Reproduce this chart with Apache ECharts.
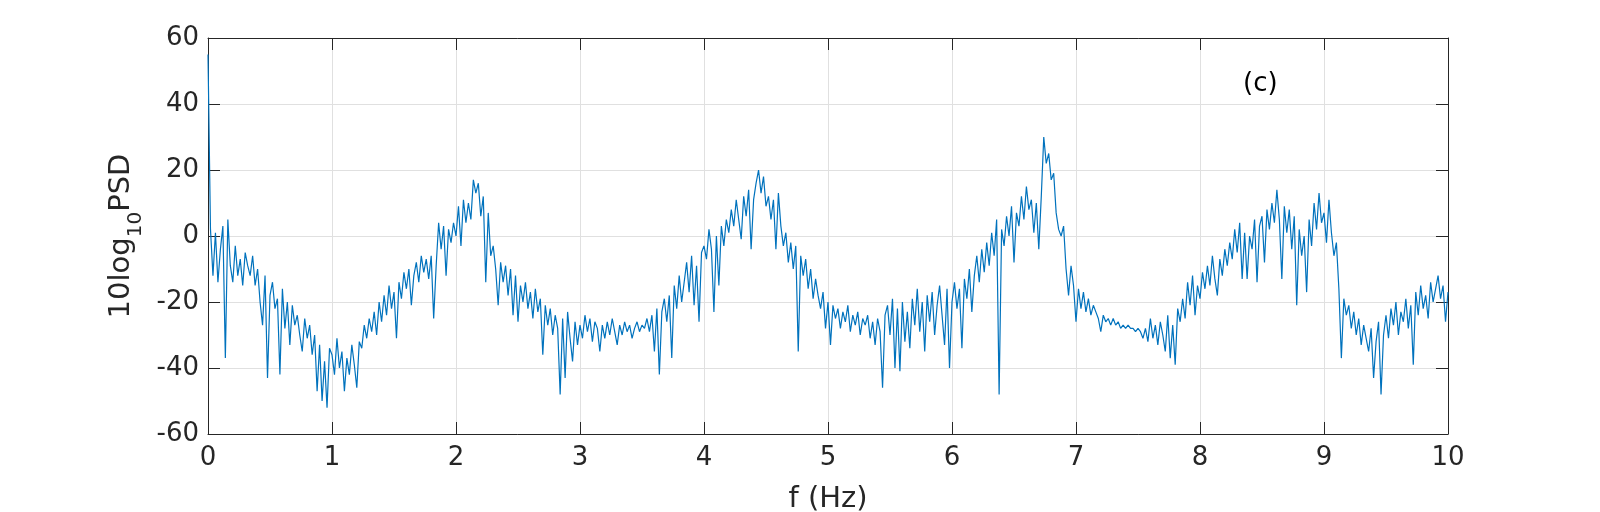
<!DOCTYPE html>
<html>
<head>
<meta charset="utf-8">
<script src="https://cdn.jsdelivr.net/npm/echarts@6/dist/echarts.min.js"></script>
<style>
  html, body { margin: 0; padding: 0; background: #fff; }
  #chart { width: 1600px; height: 512px; }
</style>
</head>
<body>
<div id="chart"></div>
<script>
// frequency resolution of the PSD estimate (Hz)
const freqStep = 0.02

// 10log10 PSD values, one array per 1 Hz band
const psd0to1 = [55, 2, -12, 1, -14, -4, 3, -37, 5, -9,
  -14, -3, -12, -7, -15, -5, -9, -12, -6, -15,
  -10, -20, -27, -12, -43, -18, -14, -22, -19, -42,
  -16, -28, -20, -33, -21, -27, -24, -30, -35, -25,
  -31, -27, -36, -30, -47, -33, -50, -38, -52, -34]
const psd1to2 = [-36, -42, -31, -40, -35, -47, -37, -42, -33, -39,
  -46, -32, -34, -27, -31, -25, -29, -23, -30, -20,
  -26, -18, -24, -15, -22, -17, -31, -14, -19, -11,
  -16, -10, -21, -12, -8, -14, -6, -11, -7, -13,
  -6, -25, -9, 4, -4, 3, -12, 2, -2, 4]
const psd2to3 = [0, 9, -3, 11, 4, 10, 5, 17, 13, 16,
  6, 12, -14, 7, -6, -3, -10, -21, -8, -14,
  -9, -18, -10, -24, -12, -26, -15, -20, -14, -22,
  -17, -25, -16, -23, -19, -36, -21, -27, -22, -30,
  -24, -28, -48, -25, -43, -23, -31, -38, -26, -33]
const psd3to4 = [-27, -31, -24, -29, -25, -32, -26, -28, -35, -27,
  -31, -26, -30, -25, -29, -33, -27, -30, -26, -29,
  -27, -31, -28, -26, -29, -27, -28, -25, -29, -24,
  -35, -22, -42, -23, -19, -26, -18, -37, -15, -22,
  -12, -20, -14, -8, -17, -6, -21, -9, -26, -5]
const psd4to5 = [-3, -7, 2, -4, -23, 0, -15, 3, -3, 5,
  1, 8, 3, 11, 5, -1, 12, 6, 14, -4,
  11, 16, 20, 13, 18, 9, 12, 5, 11, -4,
  13, 3, -3, 1, -8, -2, -10, -3, -35, -6,
  -12, -7, -16, -10, -19, -13, -18, -22, -17, -28]
const psd5to6 = [-20, -33, -21, -25, -22, -28, -23, -26, -21, -29,
  -24, -27, -23, -30, -25, -27, -24, -31, -26, -33,
  -25, -29, -46, -24, -21, -30, -19, -40, -22, -41,
  -20, -32, -23, -34, -19, -27, -16, -29, -20, -35,
  -18, -26, -17, -30, -21, -15, -24, -33, -16, -40]
const psd6to7 = [-20, -14, -22, -16, -34, -13, -19, -10, -23, -12,
  -6, -14, -4, -11, -2, -9, 1, -6, 5, -48,
  2, -3, 6, 0, 9, -8, 7, 3, 12, 5,
  15, 8, 11, 1, 10, -4, 12, 30, 22, 25,
  17, 19, 7, 2, 0, 3, -10, -18, -9, -15]
const psd7to8 = [-26, -16, -22, -17, -23, -19, -24, -21, -23, -25,
  -29, -24, -26, -25, -27, -25, -27, -26, -28, -27,
  -28, -27, -28, -28, -29, -28, -29, -31, -28, -32,
  -25, -31, -27, -33, -26, -30, -35, -24, -37, -27,
  -39, -22, -26, -19, -25, -14, -21, -12, -24, -15]
const psd8to9 = [-19, -11, -16, -9, -15, -6, -13, -18, -7, -12,
  -4, -9, -2, -7, 2, -5, 4, -13, 1, -13,
  0, -4, 5, -14, 3, 6, -8, 8, 2, 10,
  4, 14, 5, -13, 9, 1, 8, -4, 6, -21,
  2, -6, 0, -17, 5, -3, 10, 2, 13, 4]
const psd9to10 = [7, -2, 11, 1, -6, -2, -16, -37, -19, -24,
  -21, -28, -23, -30, -25, -33, -27, -31, -35, -28,
  -43, -32, -26, -48, -30, -24, -31, -22, -27, -20,
  -30, -23, -26, -19, -28, -21, -39, -17, -24, -15,
  -22, -18, -25, -14, -20, -16, -12, -19, -15, -26, -17]

const xTicks = { min: 0, max: 10, interval: 1 }
const yTicks = { min: -60, max: 60, interval: 20 }

const psd = [].concat(psd0to1, psd1to2, psd2to3, psd3to4, psd4to5,
  psd5to6, psd6to7, psd7to8, psd8to9, psd9to10)
const lineData = psd.map((v, i) => [+(i * freqStep).toFixed(2), v])

const axisColor = '#262626'
const fontFamily = 'DejaVu Sans'
const tickFont = 26
const labelFont = 29

const chart = echarts.init(document.getElementById('chart'), null, { renderer: 'canvas' })

chart.setOption({
  animation: false,
  backgroundColor: '#ffffff',
  title: {
    text: '(c)',
    left: 1238,
    top: 66,
    textStyle: { color: '#000', fontFamily: fontFamily, fontSize: 26, fontWeight: 'normal' }
  },
  grid: {
    left: 208,
    right: 152,
    top: 38,
    bottom: 78,
    outerBoundsMode: 'none'
  },
  xAxis: [{
    type: 'value',
    min: xTicks.min,
    max: xTicks.max,
    interval: xTicks.interval,
    name: 'f (Hz)',
    nameLocation: 'middle',
    nameGap: 51,
    nameTextStyle: { color: axisColor, fontFamily: fontFamily, fontSize: labelFont },
    axisLine: { onZero: false, lineStyle: { color: axisColor, width: 1 } },
    axisTick: { inside: true, length: 12, lineStyle: { color: axisColor } },
    axisLabel: { color: axisColor, fontFamily: fontFamily, fontSize: tickFont, margin: 11 },
    splitLine: { show: true, lineStyle: { color: '#e0e0e0', width: 1 } }
  }, {
    type: 'value',
    position: 'top',
    min: xTicks.min,
    max: xTicks.max,
    interval: xTicks.interval,
    axisLine: { onZero: false, lineStyle: { color: axisColor, width: 1 } },
    axisTick: { inside: true, length: 12, lineStyle: { color: axisColor } },
    axisLabel: { show: false },
    splitLine: { show: false }
  }],
  yAxis: [{
    type: 'value',
    min: yTicks.min,
    max: yTicks.max,
    interval: yTicks.interval,
    name: '{a|10log}{s|10}{a|PSD}',
    nameLocation: 'middle',
    nameGap: 60,
    nameTextStyle: {
      color: axisColor,
      rich: {
        a: { fontFamily: fontFamily, fontSize: labelFont, color: axisColor, verticalAlign: 'bottom', padding: [0, 0, 10, 0] },
        s: { fontFamily: fontFamily, fontSize: 20, color: axisColor, verticalAlign: 'bottom' }
      }
    },
    axisLine: { onZero: false, lineStyle: { color: axisColor, width: 1 } },
    axisTick: { inside: true, length: 12, lineStyle: { color: axisColor } },
    axisLabel: { color: axisColor, fontFamily: fontFamily, fontSize: tickFont, margin: 9 },
    splitLine: { show: true, lineStyle: { color: '#e0e0e0', width: 1 } }
  }, {
    type: 'value',
    position: 'right',
    min: yTicks.min,
    max: yTicks.max,
    interval: yTicks.interval,
    axisLine: { onZero: false, lineStyle: { color: axisColor, width: 1 } },
    axisTick: { inside: true, length: 12, lineStyle: { color: axisColor } },
    axisLabel: { show: false },
    splitLine: { show: false }
  }],
  series: [{
    name: 'PSD',
    type: 'line',
    xAxisIndex: 0,
    yAxisIndex: 0,
    showSymbol: false,
    symbol: 'none',
    lineStyle: { color: '#0072bd', width: 1.2 },
    data: lineData
  }]
})
</script>
</body>
</html>
